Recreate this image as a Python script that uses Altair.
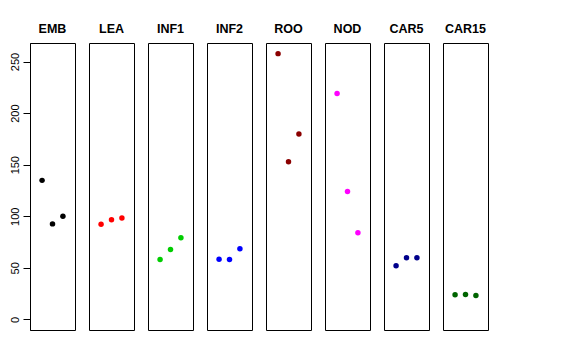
import altair as alt
import pandas as pd

groups = ["EMB", "LEA", "INF1", "INF2", "ROO", "NOD", "CAR5", "CAR15"]
colors = ["#000000", "#FF0000", "#00CD00", "#0000FF", "#8B0000", "#FF00FF", "#00008B", "#006400"]
values = [
    [134.8, 92.6, 100.0],
    [92.3, 96.5, 98.4],
    [58.1, 67.8, 79.1],
    [58.4, 58.1, 68.4],
    [257.7, 152.9, 179.7],
    [219.0, 123.9, 83.9],
    [52.0, 59.7, 59.7],
    [23.9, 24.2, 23.2],
]
positions = [1, 2, 3]
y_ticks = [0, 50, 100, 150, 200, 250]

ymax = 257.7
ypad = ymax * 0.04
y_domain = [-ypad, ymax + ypad]
x_domain = [-0.16, 4.16]

panels = []
for i, (g, c, vals) in enumerate(zip(groups, colors, values)):
    df = pd.DataFrame({"pos": positions, "val": vals})
    if i == 0:
        yaxis = alt.Axis(values=y_ticks, grid=False, title=None, labelAngle=270,
                         labelAlign="center", labelBaseline="bottom", tickSize=7,
                         labelPadding=3, labelFontSize=11, labelColor="#000000",
                         tickColor="#000000", domainColor="#000000", labelFont="Liberation Sans")
    else:
        yaxis = None
    ch = alt.Chart(df).mark_circle(size=30, opacity=1, color=c).encode(
        x=alt.X("pos:Q", scale=alt.Scale(domain=x_domain, nice=False, zero=False), axis=None),
        y=alt.Y("val:Q", scale=alt.Scale(domain=y_domain, nice=False, zero=False), axis=yaxis),
    ).properties(
        width=45, height=287,
        title=alt.TitleParams(g, fontSize=12.5, fontWeight="bold", font="Liberation Sans",
                              color="#000000", offset=8),
    )
    panels.append(ch)

chart = alt.hconcat(*panels, spacing=12).properties(
    padding={"left": 0, "top": 14, "right": 0, "bottom": 0},
).configure_view(stroke="#000000", strokeWidth=1).configure_concat(spacing=12)

chart.save("out.html", embed_options={"renderer": "svg", "actions": False})
